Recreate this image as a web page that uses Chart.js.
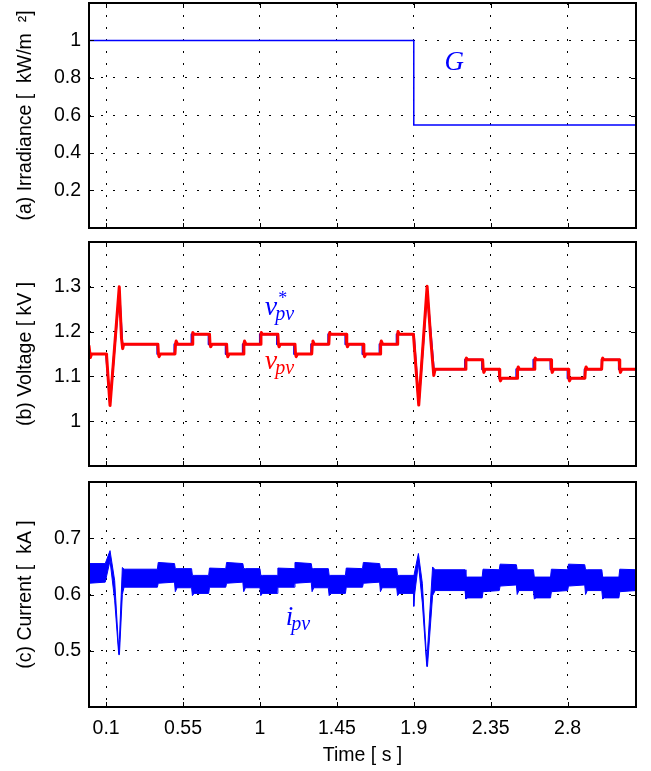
<!DOCTYPE html>
<html><head><meta charset="utf-8">
<script src="https://cdn.jsdelivr.net/npm/chart.js@4.4.1/dist/chart.umd.min.js"></script>
<style>
html,body{margin:0;padding:0;background:#fff;width:651px;height:771px;overflow:hidden;}
.p{position:absolute;left:0;}
canvas{display:block;}
</style></head><body>
<div class="p" style="top:0px"><canvas id="c1" width="651" height="240"></canvas></div>
<div class="p" style="top:236px"><canvas id="c2" width="651" height="240"></canvas></div>
<div class="p" style="top:476px"><canvas id="c3" width="651" height="295"></canvas></div>
<script>
// ---------------- data ----------------
const xTicks = [0.1, 0.55, 1, 1.45, 1.9, 2.35, 2.8];
const xTickLabels = ['0.1', '0.55', '1', '1.45', '1.9', '2.35', '2.8'];

const gTicks = [0.2, 0.4, 0.6, 0.8, 1];
const gTickLabels = ['0.2', '0.4', '0.6', '0.8', '1'];
const vTicks = [1, 1.1, 1.2, 1.3];
const vTickLabels = ['1', '1.1', '1.2', '1.3'];
const iTicks = [0.5, 0.6, 0.7];
const iTickLabels = ['0.5', '0.6', '0.7'];

// Irradiance G
const gTime  = [0, 1.9, 1.9, 3.2];
const gValue = [1, 1, 0.55, 0.55];

// Reference voltage v*pv (kV)
const vRefTime = [0,0.100,0.123,0.177,0.195,0.400,0.400,0.500,0.500,0.600,0.600,0.700,0.700,0.800,0.800,0.900,0.900,1.000,1.000,1.100,1.100,1.200,1.200,1.300,1.300,1.400,1.400,1.500,1.500,1.600,1.600,1.700,1.700,1.800,1.800,1.900,1.929,1.978,2.017,2.200,2.200,2.300,2.300,2.400,2.400,2.500,2.500,2.600,2.600,2.700,2.700,2.800,2.800,2.900,2.900,3.000,3.000,3.100,3.100,3.200];
const vRefValue = [1.150,1.150,1.040,1.290,1.172,1.172,1.150,1.150,1.172,1.172,1.194,1.194,1.172,1.172,1.150,1.150,1.172,1.172,1.194,1.194,1.172,1.172,1.150,1.150,1.172,1.172,1.194,1.194,1.172,1.172,1.150,1.150,1.172,1.172,1.194,1.194,1.040,1.290,1.116,1.116,1.137,1.137,1.116,1.116,1.096,1.096,1.116,1.116,1.137,1.137,1.116,1.116,1.096,1.096,1.116,1.116,1.137,1.137,1.116,1.116];

// Measured voltage vpv (kV)
const vPvTime = [0.000,0.008,0.015,0.100,0.103,0.123,0.177,0.190,0.197,0.203,0.403,0.406,0.410,0.418,0.503,0.506,0.510,0.518,0.603,0.606,0.608,0.615,0.705,0.708,0.712,0.720,0.805,0.808,0.812,0.820,0.903,0.906,0.910,0.918,1.003,1.006,1.008,1.015,1.105,1.108,1.112,1.120,1.205,1.208,1.212,1.220,1.303,1.306,1.310,1.318,1.403,1.406,1.408,1.415,1.505,1.508,1.512,1.520,1.605,1.608,1.612,1.620,1.703,1.706,1.710,1.718,1.803,1.806,1.808,1.815,1.898,1.929,1.978,2.000,2.017,2.025,2.202,2.205,2.208,2.215,2.303,2.306,2.310,2.318,2.400,2.403,2.407,2.415,2.504,2.507,2.511,2.518,2.605,2.608,2.611,2.618,2.703,2.706,2.710,2.718,2.804,2.807,2.811,2.819,2.901,2.904,2.908,2.915,2.999,3.002,3.005,3.012,3.102,3.105,3.109,3.117,3.200];
const vPvValue = [1.168,1.142,1.150,1.150,1.146,1.035,1.300,1.185,1.162,1.172,1.172,1.150,1.144,1.150,1.150,1.172,1.179,1.172,1.172,1.195,1.198,1.194,1.194,1.172,1.166,1.172,1.172,1.150,1.144,1.150,1.150,1.172,1.179,1.172,1.172,1.195,1.198,1.194,1.194,1.172,1.166,1.172,1.172,1.150,1.144,1.150,1.150,1.172,1.179,1.172,1.172,1.195,1.198,1.194,1.194,1.172,1.166,1.172,1.172,1.150,1.144,1.150,1.150,1.172,1.179,1.172,1.172,1.195,1.200,1.194,1.194,1.036,1.301,1.180,1.102,1.116,1.116,1.138,1.141,1.137,1.137,1.116,1.109,1.116,1.116,1.096,1.090,1.096,1.096,1.116,1.121,1.116,1.116,1.138,1.141,1.137,1.137,1.116,1.109,1.116,1.116,1.096,1.090,1.096,1.096,1.116,1.121,1.116,1.116,1.138,1.141,1.137,1.137,1.116,1.109,1.116,1.116];

// PV current ipv (kA): ripple envelope (upper / lower)
const iTime  = [0.000,0.095,0.123,0.150,0.174,0.178,0.195,0.205,0.400,0.405,0.500,0.505,0.515,0.600,0.605,0.615,0.700,0.705,0.800,0.805,0.900,0.905,0.915,1.000,1.005,1.015,1.100,1.105,1.200,1.205,1.300,1.305,1.315,1.400,1.405,1.415,1.500,1.505,1.600,1.605,1.700,1.705,1.715,1.800,1.805,1.815,1.898,1.900,1.905,1.927,1.950,1.976,1.980,2.010,2.025,2.200,2.205,2.215,2.300,2.305,2.400,2.405,2.500,2.505,2.515,2.600,2.605,2.615,2.700,2.705,2.800,2.805,2.900,2.905,2.915,3.000,3.005,3.015,3.100,3.105,3.200];
const iUpper = [0.655,0.655,0.678,0.625,0.500,0.520,0.648,0.645,0.645,0.657,0.655,0.646,0.646,0.646,0.634,0.634,0.634,0.647,0.646,0.657,0.655,0.646,0.646,0.646,0.634,0.634,0.634,0.647,0.646,0.657,0.655,0.646,0.646,0.646,0.634,0.634,0.634,0.647,0.646,0.657,0.655,0.646,0.646,0.646,0.634,0.634,0.634,0.632,0.640,0.673,0.620,0.480,0.500,0.649,0.644,0.644,0.631,0.631,0.631,0.645,0.644,0.654,0.653,0.644,0.644,0.644,0.631,0.631,0.631,0.645,0.644,0.654,0.653,0.644,0.644,0.644,0.631,0.631,0.631,0.645,0.644];
const iLower = [0.620,0.622,0.660,0.590,0.493,0.493,0.600,0.613,0.613,0.620,0.622,0.605,0.612,0.612,0.598,0.602,0.602,0.613,0.613,0.620,0.622,0.605,0.612,0.612,0.598,0.602,0.602,0.613,0.613,0.620,0.622,0.605,0.612,0.612,0.598,0.602,0.602,0.613,0.613,0.620,0.622,0.605,0.612,0.612,0.598,0.602,0.602,0.579,0.600,0.655,0.585,0.472,0.472,0.598,0.607,0.607,0.592,0.594,0.594,0.605,0.607,0.615,0.617,0.600,0.607,0.607,0.592,0.594,0.594,0.605,0.607,0.615,0.617,0.600,0.607,0.607,0.592,0.594,0.594,0.605,0.607];

// ---------------- helpers ----------------
const pts = (t, v) => t.map((x, i) => ({x: x, y: v[i]}));
Chart.defaults.font.family = '"Liberation Sans", Arial, Helvetica, sans-serif';
Chart.defaults.font.size = 19.5;
Chart.defaults.color = '#000';

const MATH_FONT = '"Liberation Serif", "DejaVu Serif", serif';

const framePlugin = {
  id: 'frame',
  afterDatasetsDraw(chart) {
    const {ctx, chartArea: a, scales: {x, y}} = chart;
    ctx.save();
    ctx.strokeStyle = '#000';
    ctx.lineWidth = 1;
    ctx.setLineDash([]);
    ctx.beginPath();
    x.ticks.forEach(t => {
      const px = Math.round(x.getPixelForValue(t.value)) + 0.5;
      ctx.moveTo(px, a.top); ctx.lineTo(px, a.top + 5);
      ctx.moveTo(px, a.bottom); ctx.lineTo(px, a.bottom - 5);
    });
    y.ticks.forEach(t => {
      const py = Math.round(y.getPixelForValue(t.value)) + 0.5;
      ctx.moveTo(a.left, py); ctx.lineTo(a.left + 5, py);
      ctx.moveTo(a.right, py); ctx.lineTo(a.right - 5, py);
    });
    ctx.stroke();
    ctx.lineWidth = 2;
    ctx.strokeRect(a.left, a.top, a.right - a.left, a.bottom - a.top);
    ctx.restore();
  }
};

const mathLabels = {
  id: 'mathLabels',
  afterDraw(chart, args, opts) {
    const items = opts.items || [];
    const {ctx, scales: {x, y}} = chart;
    ctx.save();
    items.forEach(it => {
      const px = x.getPixelForValue(it.x);
      const py = y.getPixelForValue(it.y);
      ctx.fillStyle = it.color;
      ctx.textBaseline = 'alphabetic';
      ctx.textAlign = 'left';
      ctx.font = 'italic ' + it.size + 'px ' + MATH_FONT;
      ctx.fillText(it.base, px, py);
      const w = ctx.measureText(it.base).width;
      if (it.sup) {
        ctx.font = it.supSize + 'px ' + MATH_FONT;
        ctx.fillText(it.sup, px + w + 1, py - 11);
      }
      if (it.sub) {
        ctx.font = 'italic ' + it.subSize + 'px ' + MATH_FONT;
        ctx.fillText(it.sub, px + w - 2, py + 5);
      }
    });
    ctx.restore();
  }
};

function makeScales(o) {
  return {
    x: {
      type: 'linear', min: 0, max: 3.2,
      afterBuildTicks: s => { s.ticks = xTicks.map(v => ({value: v})); },
      afterFit: s => { s.height = o.xHeight; s.paddingLeft = 0; s.paddingRight = 0; s.paddingTop = 0; s.paddingBottom = 0; },
      grid: {display: true, drawTicks: false, color: '#000', lineWidth: 1},
      border: {display: false, dash: [2, 10]},
      ticks: {
        display: o.xLabels, padding: 10, autoSkip: false, maxRotation: 0,
        callback: (v) => xTickLabels[xTicks.indexOf(v)]
      },
      title: {display: o.xLabels, text: 'Time [ s ]', padding: {top: 0, bottom: 4}, font: {size: 19.5}}
    },
    y: {
      type: 'linear', min: o.ymin, max: o.ymax,
      afterBuildTicks: s => { s.ticks = o.yTicks.map(v => ({value: v})); },
      afterFit: s => { s.width = 89; s.paddingTop = 0; s.paddingBottom = 0; s.paddingLeft = 0; s.paddingRight = 0; },
      grid: {display: true, drawTicks: false, color: '#000', lineWidth: 1},
      border: {display: false, dash: [2, 10]},
      ticks: {
        padding: 8, autoSkip: false,
        callback: (v) => o.yLabels[o.yTicks.indexOf(v)]
      },
      title: {display: true, text: o.title, padding: {top: 14, bottom: 0}, font: {size: 19.5}}
    }
  };
}

const baseOpts = (o, padTop, labels) => ({
  responsive: false, animation: false, devicePixelRatio: 1,
  layout: {padding: {top: padTop, right: 15, left: 0, bottom: 0}},
  elements: {point: {radius: 0}, line: {tension: 0, borderJoinStyle: 'round', borderCapStyle: 'round'}},
  plugins: {legend: {display: false}, tooltip: {enabled: false}, mathLabels: {items: labels}},
  scales: makeScales(o)
});

// Panel (a)
new Chart(document.getElementById('c1'), {
  type: 'line',
  data: {datasets: [{data: pts(gTime, gValue), borderColor: '#0000ff', borderWidth: 1.5, fill: false, borderJoinStyle: 'miter'}]},
  options: baseOpts({xHeight: 12, xLabels: false, ymin: 0, ymax: 1.2, yTicks: gTicks, yLabels: gTickLabels,
    title: '(a) Irradiance [  kW/m  ²]'}, 3,
    [{x: 2.079, y: 0.843, base: 'G', size: 27, color: '#0000ff'}]),
  plugins: [framePlugin, mathLabels]
});

// Panel (b)
new Chart(document.getElementById('c2'), {
  type: 'line',
  data: {datasets: [
    {data: pts(vPvTime, vPvValue), borderColor: '#ff0000', borderWidth: 3, fill: false},
    {data: pts(vRefTime, vRefValue), borderColor: '#0000ff', borderWidth: 2, fill: false}
  ]},
  options: baseOpts({xHeight: 10, xLabels: false, ymin: 0.9, ymax: 1.4, yTicks: vTicks, yLabels: vTickLabels,
    title: '(b) Voltage [ kV ]'}, 6,
    [{x: 1.028, y: 1.238, base: 'v', sup: '*', sub: 'pv', size: 28, supSize: 18, subSize: 20, color: '#0000ff'},
     {x: 1.028, y: 1.116, base: 'v', sub: 'pv', size: 28, subSize: 20, color: '#ff0000'}]),
  plugins: [framePlugin, mathLabels]
});

// Panel (c)
new Chart(document.getElementById('c3'), {
  type: 'line',
  data: {datasets: [
    {data: pts(iTime, iUpper), borderColor: '#0000ff', backgroundColor: '#0000ff', borderWidth: 1, fill: '+1'},
    {data: pts(iTime, iLower), borderColor: '#0000ff', borderWidth: 1, fill: false}
  ]},
  options: baseOpts({xHeight: 64, xLabels: true, ymin: 0.4, ymax: 0.8, yTicks: iTicks, yLabels: iTickLabels,
    title: '(c) Current [  kA ]'}, 6,
    [{x: 1.151, y: 0.546, base: 'i', sub: 'pv', size: 27, subSize: 20, color: '#0000ff'}]),
  plugins: [framePlugin, mathLabels]
});
</script>
</body></html>
